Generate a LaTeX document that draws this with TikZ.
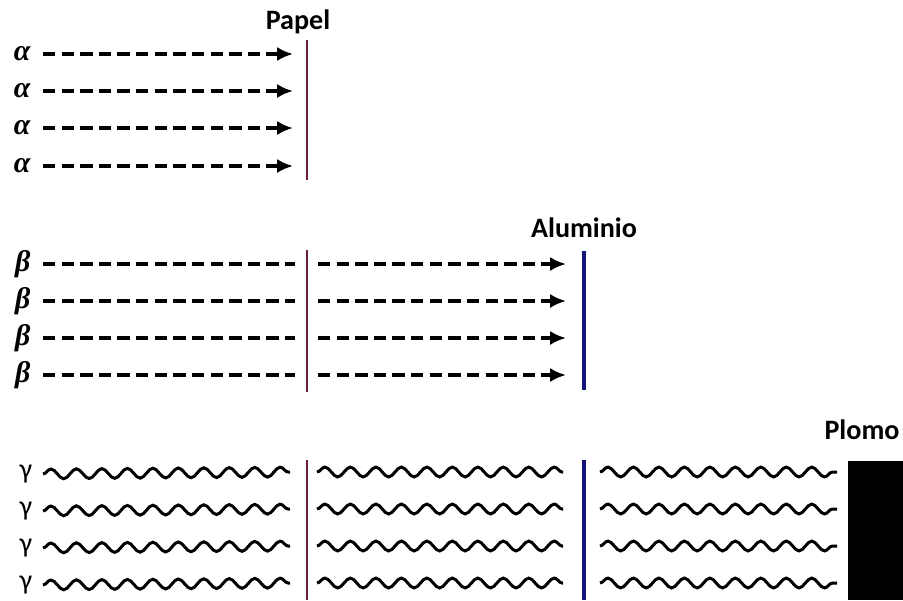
\documentclass[tikz,border=0pt]{standalone}
\usepackage{fontspec}
\setmainfont{Carlito}
\newfontfamily\griega{Liberation Serif}
\usetikzlibrary{arrows.meta,decorations.pathmorphing}
\definecolor{papelrojo}{HTML}{6B1F3C}
\definecolor{alumazul}{HTML}{14147A}
\tikzset{
  lbl/.style={anchor=east, inner xsep=7pt, inner ysep=0pt, font=\griega\bfseries\itshape\fontsize{17}{17}\selectfont},
  lblg/.style={anchor=east, inner xsep=6pt, inner ysep=0pt, font=\fontsize{16}{16}\selectfont},
  titulo/.style={inner sep=0pt, font=\bfseries\fontsize{16}{16}\selectfont},
  rayo/.style={line width=2.2pt, dash pattern=on 7pt off 3.6pt},
  punta/.style={-{Latex[length=9pt,width=8pt]}},
  onda/.style={line width=1.7pt, decorate, decoration={snake, segment length=14.5pt, amplitude=2.8pt}},
  papel/.style={line width=1.1pt, draw=papelrojo},
  alum/.style={line width=2.4pt, draw=alumazul},
}
\begin{document}
\begin{tikzpicture}[x=0.02cm, y=-0.02cm]
    \useasboundingbox (0,0) rectangle (903,600);

    % Alfa: el papel las detiene
    \node[titulo] (tpapel) at (298,22) {Papel};
    \node[lbl] (a1) at (43,54) {α};
    \node[lbl] (a2) at (43,91) {α};
    \node[lbl] (a3) at (43,128) {α};
    \node[lbl] (a4) at (43,166) {α};
    \draw[rayo, punta] (a1.east) -- (293,54) coordinate (a1f);
    \draw[rayo, punta] (a2.east) -- (293,91) coordinate (a2f);
    \draw[rayo, punta] (a3.east) -- (293,128) coordinate (a3f);
    \draw[rayo, punta] (a4.east) -- (293,166) coordinate (a4f);
    \draw[papel] (307,40) -- (307,180);

    % Beta: atraviesan el papel, el aluminio las detiene
    \node[titulo] (talum) at (584,228) {Aluminio};
    \node[lbl] (b1) at (43,264) {β};
    \node[lbl] (b2) at (43,301) {β};
    \node[lbl] (b3) at (43,338) {β};
    \node[lbl] (b4) at (43,375) {β};
    \draw[rayo] (b1.east) -- (295,264) coordinate (b1f);
    \draw[rayo] (b2.east) -- (295,301) coordinate (b2f);
    \draw[rayo] (b3.east) -- (295,338) coordinate (b3f);
    \draw[rayo] (b4.east) -- (295,375) coordinate (b4f);
    \draw[rayo, punta] (318,264) coordinate (b1s) -- (566,264) coordinate (b1t);
    \draw[rayo, punta] (318,301) coordinate (b2s) -- (566,301) coordinate (b2t);
    \draw[rayo, punta] (318,338) coordinate (b3s) -- (566,338) coordinate (b3t);
    \draw[rayo, punta] (318,375) coordinate (b4s) -- (566,375) coordinate (b4t);
    \draw[papel] (307,250) -- (307,392);
    \draw[alum] (584,251) -- (584,390);

    % Gamma: solo el plomo las detiene
    \node[titulo] (tplomo) at (862,430) {Plomo};
    \node[lblg] (g1) at (43,474) {γ};
    \node[lblg] (g2) at (43,511) {γ};
    \node[lblg] (g3) at (43,548) {γ};
    \node[lblg] (g4) at (43,585) {γ};
    \draw[onda] (g1.east) -- (290,472) coordinate (g1f);
    \draw[onda] (g2.east) -- (290,509) coordinate (g2f);
    \draw[onda] (g3.east) -- (290,546) coordinate (g3f);
    \draw[onda] (g4.east) -- (290,583) coordinate (g4f);
    \draw[onda] (317,472) coordinate (g1s) -- (563,472) coordinate (g1t);
    \draw[onda] (317,509) coordinate (g2s) -- (563,509) coordinate (g2t);
    \draw[onda] (317,546) coordinate (g3s) -- (563,546) coordinate (g3t);
    \draw[onda] (317,583) coordinate (g4s) -- (563,583) coordinate (g4t);
    \draw[onda] (600,472) coordinate (g1u) -- (837,472) coordinate (g1v);
    \draw[onda] (600,509) coordinate (g2u) -- (837,509) coordinate (g2v);
    \draw[onda] (600,546) coordinate (g3u) -- (837,546) coordinate (g3v);
    \draw[onda] (600,583) coordinate (g4u) -- (837,583) coordinate (g4v);
    \draw[papel] (307,460) -- (307,600);
    \draw[alum] (584,460) -- (584,600);
    \fill[black] (848,461) rectangle (903,600);
\end{tikzpicture}
\end{document}
